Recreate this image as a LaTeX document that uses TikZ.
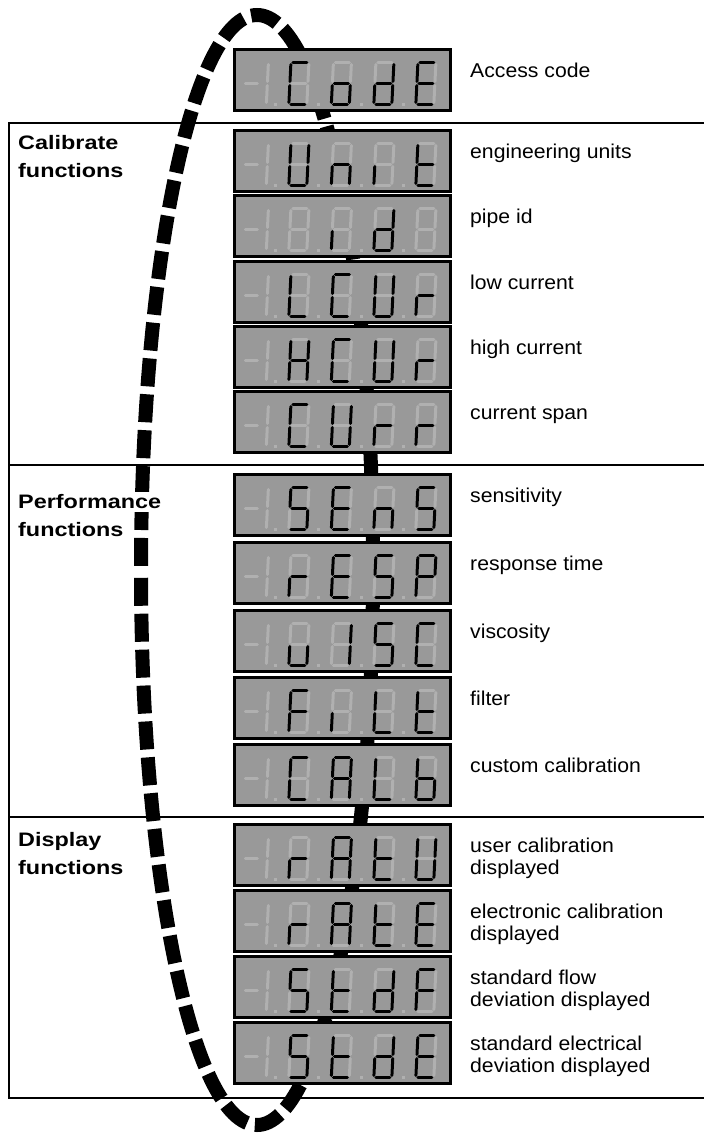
\documentclass[tikz,border=0pt]{standalone}
\usepackage{fontspec}
\setmainfont{Liberation Sans}
\newfontfamily\lblfont[FakeStretch=1.06]{Liberation Sans}
\newfontfamily\hdrfont[FakeStretch=1.2]{Liberation Sans}
\definecolor{dispbg}{RGB}{153,153,153}
\definecolor{segoffc}{RGB}{176,176,176}
\tikzset{
  disp/.style={draw=black, line width=3pt, fill=dispbg, minimum width=216pt, minimum height=61pt, inner sep=0pt},
  segon/.style={draw=black, line width=3pt, line cap=round},
  segoff/.style={draw=segoffc, line width=3pt, line cap=round},
  lbl/.style={font=\lblfont\fontsize{20}{21.7}\selectfont, inner sep=0pt},
  hdr/.style={font=\hdrfont\bfseries\fontsize{19.5}{28.2}\selectfont, align=left, inner sep=0pt},
  sect/.style={line width=2.2pt, draw=black},
  ring/.style={line width=14pt, draw=black, dash pattern=on 28pt off 7.95pt, dash phase=31.9pt},
}
\newcommand\SgA[1]{\draw[#1] (3.5,1.5)--(17.5,1.5);}
\newcommand\SgB[1]{\draw[#1] (19.5,3.5)--(19.5,20.5);}
\newcommand\SgC[1]{\draw[#1] (19.5,24.5)--(19.5,41.5);}
\newcommand\SgD[1]{\draw[#1] (3.5,43.5)--(17.5,43.5);}
\newcommand\SgE[1]{\draw[#1] (1.5,24.5)--(1.5,41.5);}
\newcommand\SgF[1]{\draw[#1] (1.5,3.5)--(1.5,20.5);}
\newcommand\SgG[1]{\draw[#1] (3.5,22.5)--(17.5,22.5);}
\newcommand\SgN[1]{}
\newcommand\DigitAt[2]{%
  \begin{scope}[shift={(#1,13)}, xslant=0.05]
    \foreach \s in {A,B,C,D,E,F,G}{\csname Sg\s\endcsname{segoff}}
    \foreach \s in {#2}{\csname Sg\s\endcsname{segon}}
  \end{scope}}
\newcommand\Disp[6]{%
  \node[disp] (#1) at (342.5,#2+32) {};
  \begin{scope}[shift={(233,#2)}]
    \begin{scope}[shift={(16,13)}, xslant=0.05]
      \draw[segoff] (-2.5,22.5)--(9.5,22.5);
      \SgB{segoff}\SgC{segoff}
    \end{scope}
    \foreach \px in {42,85,128,170}{\fill[segoffc] (\px-1.5,54.5) rectangle (\px+1.5,57.5);}
    \DigitAt{56.5}{#3}\DigitAt{99}{#4}\DigitAt{141.5}{#5}\DigitAt{183.5}{#6}
  \end{scope}}
\newcommand\WhiteLine[1]{{\fboxsep=3pt\kern-3pt\colorbox{white}{#1}\kern-3pt}}
\begin{document}
\begin{tikzpicture}[x=1pt,y=-1pt]
\fill[white] (0,0) rectangle (704,1135);
\useasboundingbox (0,0) rectangle (704,1135);
% section frame
\draw[sect] (704,123) -- (9,123) -- (9,1098) -- (704,1098);
\draw[sect] (9,465) -- (704,465);
\draw[sect] (9,817) -- (704,817);
% dashed ring (starts at its left-most point, inside a gap of the dash pattern)
\draw[ring] (141,570) arc[start angle=180, end angle=540, x radius=116, y radius=555];
% displays
\Disp{code}{48}{A,D,E,F}{C,D,E,G}{B,C,D,E,G}{A,D,E,F,G}
\Disp{unit}{129}{B,C,D,E,F}{C,E,G}{E}{D,E,F,G}
\Disp{pid}{194}{N}{E}{B,C,D,E,G}{N}
\Disp{lcur}{260}{D,E,F}{A,D,E,F}{B,C,D,E,F}{E,G}
\Disp{hcur}{325}{B,C,E,F,G}{A,D,E,F}{B,C,D,E,F}{E,G}
\Disp{curr}{390}{A,D,E,F}{B,C,D,E,F}{E,G}{E,G}
\Disp{sens}{473}{A,C,D,F,G}{A,D,E,F,G}{C,E,G}{A,C,D,F,G}
\Disp{resp}{541}{E,G}{A,D,E,F,G}{A,C,D,F,G}{A,B,E,F,G}
\Disp{visc}{609}{C,D,E}{B,C}{A,C,D,F,G}{A,D,E,F}
\Disp{filt}{676}{A,E,F,G}{E}{D,E,F}{D,E,F,G}
\Disp{calb}{743}{A,D,E,F}{A,B,C,E,F,G}{D,E,F}{C,D,E,F,G}
\Disp{ratu}{823}{E,G}{A,B,C,E,F,G}{D,E,F,G}{B,C,D,E,F}
\Disp{rate}{889}{E,G}{A,B,C,E,F,G}{D,E,F,G}{A,D,E,F,G}
\Disp{stdf}{955}{A,C,D,F,G}{D,E,F,G}{B,C,D,E,G}{A,E,F,G}
\Disp{stde}{1021}{A,C,D,F,G}{D,E,F,G}{B,C,D,E,G}{A,D,E,F,G}
% labels
\node[lbl, anchor=base west] (code-l) at (470,77.5) {Access code};
\node[lbl, anchor=base west] (unit-l) at (470,158.5) {engineering units};
\node[lbl, anchor=base west] (pid-l) at (470,223.5) {pipe id};
\node[lbl, anchor=base west] (lcur-l) at (470,289.5) {low current};
\node[lbl, anchor=base west] (hcur-l) at (470,354.5) {high current};
\node[lbl, anchor=base west] (curr-l) at (470,419.5) {current span};
\node[lbl, anchor=base west] (sens-l) at (470,502.5) {sensitivity};
\node[lbl, anchor=base west] (resp-l) at (470,570.5) {response time};
\node[lbl, anchor=base west] (visc-l) at (470,638.5) {viscosity};
\node[lbl, anchor=base west] (filt-l) at (470,705.5) {filter};
\node[lbl, anchor=base west] (calb-l) at (470,772.5) {custom calibration};
\node[lbl, align=left, anchor=west] (ratu-l) at (470,858.2) {user calibration\\displayed};
\node[lbl, align=left, anchor=west] (rate-l) at (470,924.2) {electronic calibration\\displayed};
\node[lbl, align=left, anchor=west] (stdf-l) at (470,990.2) {standard flow\\deviation displayed};
\node[lbl, align=left, anchor=west] (stde-l) at (470,1056.2) {standard electrical\\deviation displayed};
% section headers
\node[hdr, anchor=west] (cal-h) at (18,156.2) {Calibrate\\functions};
\node[hdr, anchor=west] (perf-h) at (18,514.4) {\WhiteLine{Performance}\\functions};
\node[hdr, anchor=west] (dispf-h) at (18,853.2) {Display\\functions};
\end{tikzpicture}
\end{document}
